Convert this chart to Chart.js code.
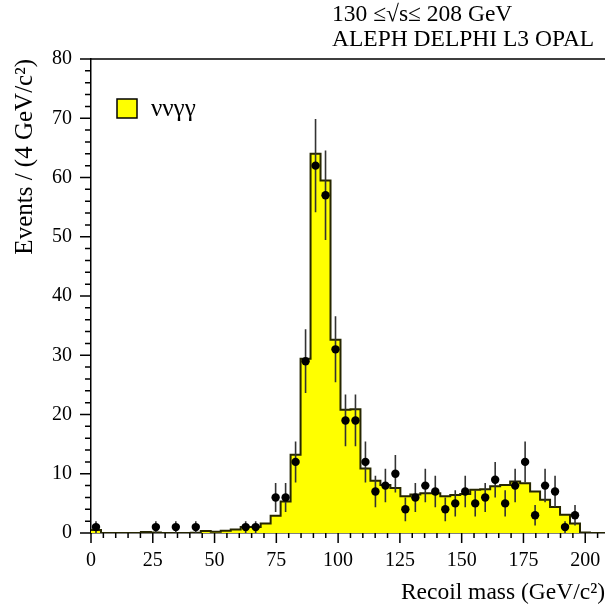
<!DOCTYPE html>
<html>
<head>
<meta charset="utf-8">
<script src="https://cdn.jsdelivr.net/npm/chart.js@4/dist/chart.umd.min.js"></script>
<style>
html, body { margin: 0; padding: 0; background: #fff; }
</style>
</head>
<body>
<canvas id="myChart" width="605" height="609"></canvas>
<script>
// 52 bins of ~4 GeV between 0 and 210 GeV
var nBins = 52;
var binWidth = 210 / nBins;

// expected (MC) events per bin
var mcValues = [0.5,0,0,0,0,0.15,0.1,0,0,0,0.05,0.35,0.2,0.4,0.6,1.0,1.0,1.6,2.9,5.3,
                13.2,29.4,64.0,59.5,32.6,20.8,20.9,10.9,8.8,8.1,7.6,6.2,6.5,6.7,6.7,6.2,
                6.4,6.6,7.3,7.4,7.9,8.1,8.7,8.4,7.0,5.6,4.4,3.1,1.6,0.1,0,0];

// observed data: bin index and counts
var dataBins   = [0,6,8,10,15,16,18,19,20,21,22,23,24,25,26,27,28,29,30,31,32,33,34,35,36,37,
                  38,39,40,41,42,43,44,45,46,47,48];
var dataCounts = [1,1,1,1,1,1,6,6,12,29,62,57,31,19,19,12,7,8,10,4,6,8,7,4,5,7,
                  5,6,9,5,8,12,3,8,7,1,3];

var xTickLabels = [0,25,50,75,100,125,150,175,200];
var yTickLabels = [0,10,20,30,40,50,60,70,80];
var headerLines = ['130 \u2264\u221As\u2264 208 GeV', 'ALEPH DELPHI L3 OPAL'];
var legendLabel = '\u03BD\u03BD\u03B3\u03B3';
var xTitle = 'Recoil mass (GeV/c\u00B2)';
var yTitle = 'Events / (4 GeV/c\u00B2)';

var xMax = 208, yMax = 80;
var fontFam = '"Liberation Serif", "Times New Roman", serif';

Chart.defaults.font.family = fontFam;
Chart.defaults.color = '#000';

var histPoints = [];
for (var i = 0; i < mcValues.length; i++) {
    histPoints.push({x: i * binWidth, y: mcValues[i]});
}
histPoints.push({x: mcValues.length * binWidth, y: mcValues[mcValues.length - 1]});

var dataPoints = [];
for (var i = 0; i < dataBins.length; i++) {
    dataPoints.push({x: (dataBins[i] + 0.5) * binWidth, y: dataCounts[i]});
}

var errorBars = {
    id: 'errorBars',
    afterDatasetDraw: function(chart, args) {
        if (args.index !== 0) return;
        var ctx = chart.ctx, xs = chart.scales.x, ys = chart.scales.y;
        ctx.save();
        ctx.strokeStyle = '#333';
        ctx.lineWidth = 1.6;
        ctx.beginPath();
        for (var i = 0; i < dataPoints.length; i++) {
            var p = dataPoints[i];
            var err = Math.sqrt(p.y);
            var px = xs.getPixelForValue(p.x);
            ctx.moveTo(px, ys.getPixelForValue(Math.max(p.y - err, 0)));
            ctx.lineTo(px, ys.getPixelForValue(p.y + err));
        }
        ctx.stroke();
        ctx.restore();
    }
};

var decorations = {
    id: 'decorations',
    afterDraw: function(chart) {
        var ctx = chart.ctx, xs = chart.scales.x, ys = chart.scales.y, area = chart.chartArea;
        ctx.save();
        ctx.strokeStyle = '#000';
        ctx.lineWidth = 1.5;
        ctx.beginPath();
        for (var v = 0; v <= xMax; v += 5) {
            var px = xs.getPixelForValue(v);
            var len = (v % 25 === 0) ? 10 : 5;
            ctx.moveTo(px, area.bottom);
            ctx.lineTo(px, area.bottom + len);
        }
        for (var v = 0; v <= yMax; v += 2) {
            var py = ys.getPixelForValue(v);
            var len = (v % 10 === 0) ? 11 : 6;
            ctx.moveTo(area.left, py);
            ctx.lineTo(area.left - len, py);
        }
        ctx.moveTo(area.left, area.top);
        ctx.lineTo(area.right, area.top);
        ctx.stroke();

        // header
        ctx.fillStyle = '#000';
        ctx.font = '23.5px ' + fontFam;
        ctx.textAlign = 'left';
        ctx.textBaseline = 'alphabetic';
        ctx.fillText(headerLines[0], 332, 21);
        ctx.fillText(headerLines[1], 332, 46);

        // legend
        ctx.fillStyle = '#ffff00';
        ctx.fillRect(117, 99, 20, 19);
        ctx.strokeRect(117, 99, 20, 19);
        ctx.fillStyle = '#000';
        ctx.font = '25px ' + fontFam;
        ctx.textBaseline = 'middle';
        ctx.fillText(legendLabel, 151, 109);
        ctx.restore();
    }
};

var ctx = document.getElementById('myChart').getContext('2d');
new Chart(ctx, {
    type: 'scatter',
    data: {
        datasets: [{
            type: 'line',
            data: histPoints,
            stepped: true,
            fill: 'origin',
            backgroundColor: '#ffff00',
            borderColor: '#262600',
            borderWidth: 2,
            pointRadius: 0,
            order: 2
        }, {
            type: 'scatter',
            data: dataPoints,
            pointRadius: 4.2,
            pointBackgroundColor: '#000',
            pointBorderColor: '#000',
            pointBorderWidth: 0,
            order: 1
        }]
    },
    options: {
        responsive: false,
        animation: false,
        layout: { autoPadding: false, padding: { top: 59, left: 0, right: 0, bottom: 0 } },
        plugins: { legend: { display: false }, tooltip: { enabled: false } },
        scales: {
            x: {
                type: 'linear',
                min: 0,
                max: xMax,
                grid: { display: false, drawTicks: false },
                border: { display: true, color: '#000', width: 1.5 },
                ticks: {
                    stepSize: 25,
                    includeBounds: false,
                    maxRotation: 0,
                    padding: 16,
                    font: { size: 20 },
                    callback: function(v) { return xTickLabels.indexOf(v) >= 0 ? String(v) : ''; }
                },
                title: {
                    display: true,
                    text: xTitle,
                    align: 'end',
                    font: { size: 23.5 },
                    padding: { top: 0, bottom: 2 }
                },
                afterFit: function(s) {
                    s.height = 76;
                    s.paddingLeft = 0;
                    s.paddingRight = 0;
                }
            },
            y: {
                min: 0,
                max: yMax,
                grid: { display: false, drawTicks: false },
                border: { display: true, color: '#000', width: 1.5 },
                ticks: {
                    stepSize: 10,
                    padding: 19,
                    font: { size: 20 },
                    callback: function(v) { return yTickLabels.indexOf(v) >= 0 ? String(v) : ''; }
                },
                title: {
                    display: true,
                    text: yTitle,
                    align: 'end',
                    font: { size: 25 },
                    padding: { top: 10, bottom: 0 }
                },
                afterFit: function(s) {
                    s.width = 91;
                    s.paddingTop = 0;
                    s.paddingBottom = 0;
                }
            }
        }
    },
    plugins: [errorBars, decorations]
});
</script>
</body>
</html>
